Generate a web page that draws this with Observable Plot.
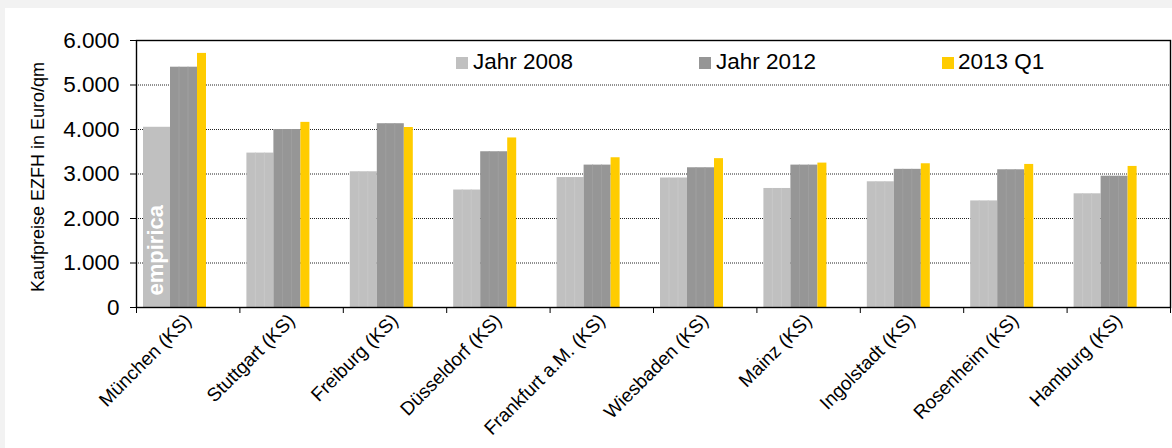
<!DOCTYPE html>
<html>
<head>
<meta charset="utf-8">
<script src="https://cdn.jsdelivr.net/npm/d3@7"></script>
<script src="https://cdn.jsdelivr.net/npm/@observablehq/plot@0.6"></script>
<style>
  html, body { margin: 0; padding: 0; background: #f2f2f2; }
  #panel { position: absolute; left: 5px; top: 8px; width: 1167px; height: 440px; background: #fff; }
  #chart { position: absolute; left: 0; top: 0; }
  .leg { position: absolute; font-family: "Liberation Sans", Arial, sans-serif; font-size: 22.5px; color: #000; line-height: 1; white-space: nowrap; }
  .sw { position: absolute; width: 12px; height: 12px; }
</style>
</head>
<body>
<div id="panel"><div id="chart"></div></div>
<script>
const cities = ["München (KS)", "Stuttgart (KS)", "Freiburg (KS)", "Düsseldorf (KS)", "Frankfurt a.M. (KS)", "Wiesbaden (KS)", "Mainz (KS)", "Ingolstadt (KS)", "Rosenheim (KS)", "Hamburg (KS)"];
const seriesNames = ["Jahr 2008", "Jahr 2012", "2013 Q1"];
const v2008 = [4050, 3470, 3050, 2640, 2920, 2910, 2675, 2825, 2395, 2555];
const v2012 = [5400, 4000, 4130, 3500, 3200, 3140, 3200, 3105, 3095, 2950];
const v2013 = [5710, 4160, 4045, 3810, 3365, 3345, 3245, 3230, 3215, 3170];
const yTicks = [0, 1000, 2000, 3000, 4000, 5000, 6000];
const yLabel = "Kaufpreise EZFH in Euro/qm";
const watermark = "empirica";

const colors = ["#c0c0c0", "#969696", "#ffcc00"];
const stripeColors = ["#c8c8c8", "#9f9f9f", null];

const W = 1167, H = 440, mL = 131, mT = 32, mR = 2, mB = 141;
const bw = (W - mL - mR) / cities.length;
const offs = [[7, 34], [34, 61], [61, 70]];

const deFmt = d3.formatLocale({decimal: ",", thousands: ".", grouping: [3], currency: ["", " €"]}).format(",d");

const values = [v2008, v2012, v2013];
const tables = values.map((vals, s) => cities.map((c, i) => ({city: c, value: vals[i], series: seriesNames[s]})));

const marks = [
  Plot.gridY(yTicks.filter(t => t > 0 && t < 6000), {stroke: "#222", strokeOpacity: 1, strokeDasharray: "1,1"})
];
tables.forEach((t, s) => {
  const [a, b] = offs[s];
  marks.push(Plot.barY(t, {x: "city", y: "value", fill: colors[s], insetLeft: a, insetRight: bw - b}));
  if (stripeColors[s]) {
    const w = b - a;
    [1/3, 2/3].forEach(f => {
      const p = a + w * f;
      marks.push(Plot.barY(t.filter((d, i) => !(s === 0 && i === 0)), {x: "city", y: "value", fill: stripeColors[s], insetLeft: p - 0.5, insetRight: bw - p - 0.5}));
    });
  }
});
marks.push(
  Plot.text([watermark], {frameAnchor: "bottom-left", rotate: -90, textAnchor: "start", lineAnchor: "middle", dx: 19, dy: -12, fill: "white", fontWeight: "bold", fontSize: 22}),
  Plot.frame({stroke: "#000", strokeWidth: 1.4}),
  Plot.axisY({ticks: yTicks, tickSize: 6, tickPadding: 11, tickFormat: deFmt, fontSize: 22.5, label: null, stroke: "#000"}),
  Plot.axisX({ticks: cities, tickSize: 6, text: null, label: null, dx: -bw / 2, stroke: "#000"}),
  Plot.axisX({ticks: [cities[cities.length - 1]], tickSize: 6, text: null, label: null, dx: bw / 2, stroke: "#000"}),
  Plot.axisX({ticks: cities, tickSize: 0, tickRotate: -45, tickPadding: 10, fontSize: 19, label: null}),
  Plot.text([yLabel], {frameAnchor: "left", rotate: -90, textAnchor: "middle", dx: -98, dy: 3, lineAnchor: "middle", fontSize: 18, fill: "#000"})
);

const chart = Plot.plot({
  width: W, height: H,
  marginLeft: mL, marginTop: mT, marginRight: mR, marginBottom: mB,
  style: {fontFamily: "'Liberation Sans', Arial, sans-serif", background: "transparent", color: "#000", overflow: "visible"},
  x: {type: "band", domain: cities, padding: 0, round: false, axis: null},
  y: {domain: [0, 6000], axis: null},
  marks
});
document.getElementById("chart").appendChild(chart);

// legend (inside plot area, top)
const panel = document.getElementById("panel");
const legX = [[451, 468], [694, 711], [937, 953]];
seriesNames.forEach((n, s) => {
  const sw = document.createElement("div");
  sw.className = "sw";
  sw.style.left = legX[s][0] + "px";
  sw.style.top = (63 - 8 - 6) + "px";
  sw.style.background = colors[s];
  panel.appendChild(sw);
  const t = document.createElement("div");
  t.className = "leg";
  t.textContent = n;
  t.style.left = legX[s][1] + "px";
  t.style.top = (63 - 8 - 12) + "px";
  panel.appendChild(t);
});
</script>
</body>
</html>
